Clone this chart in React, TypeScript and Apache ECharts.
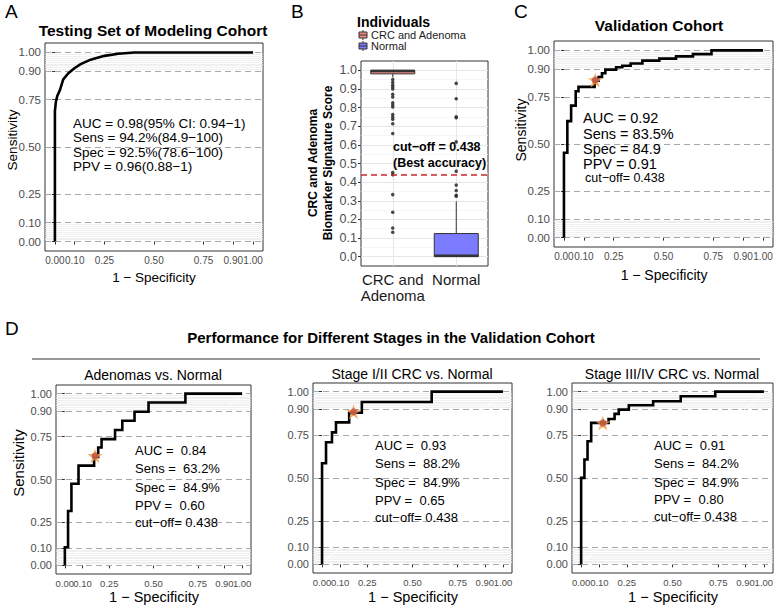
import React, { useEffect, useRef } from 'react';
import * as echarts from 'echarts';

const FONT = '"Liberation Sans", Arial, Helvetica, sans-serif';

// ---------- data ----------
const ROC_TICKS = [0, 0.1, 0.25, 0.5, 0.75, 0.9, 1.0];
// x tick labels are split over two overlaid axes so that touching labels are all kept
const ROC_X_LABELS_MAIN = [0, 0.25, 0.5, 0.75, 1.0];
const ROC_X_LABELS_EXTRA = [0.1, 0.9];
const ROC_MINOR = [0.01, 0.02, 0.03, 0.04, 0.05, 0.06, 0.07, 0.08, 0.09, 0.91, 0.92, 0.93, 0.94, 0.95, 0.96, 0.97, 0.98, 0.99];
const DIAG_X = [0, 1];
const DIAG_Y = [0, 1];

// A: testing set of modeling cohort (smooth ROC)
const A_FPR = [0, 0, 0.005, 0.012, 0.025, 0.042, 0.068, 0.1, 0.13, 0.18, 0.25, 0.32, 0.4, 1.0];
const A_TPR = [0, 0.69, 0.74, 0.77, 0.80, 0.858, 0.89, 0.918, 0.938, 0.962, 0.982, 0.993, 1.0, 1.0];

// C: validation cohort (step ROC)
const C_FPR = [0, 0, 0.017, 0.036, 0.059, 0.073, 0.154, 0.174, 0.191, 0.208, 0.262, 0.293, 0.335, 0.394, 0.479, 0.563, 0.648, 0.741, 1.0];
const C_TPR = [0, 0.453, 0.622, 0.705, 0.782, 0.805, 0.838, 0.858, 0.878, 0.897, 0.91, 0.918, 0.93, 0.945, 0.956, 0.968, 0.98, 1.0, 1.0];
const C_STAR = [0.157, 0.842];

// D1: adenomas vs normal
const D1_FPR = [0, 0, 0.018, 0.037, 0.077, 0.165, 0.188, 0.207, 0.283, 0.324, 0.393, 0.472, 0.68, 1.0];
const D1_TPR = [0, 0.106, 0.317, 0.475, 0.581, 0.631, 0.686, 0.735, 0.788, 0.842, 0.894, 0.948, 1.0, 1.0];
const D1_STAR = [0.17, 0.638];

// D2: stage I/II CRC vs normal
const D2_FPR = [0, 0, 0.022, 0.055, 0.077, 0.15, 0.22, 0.606, 1.0];
const D2_TPR = [0, 0.585, 0.707, 0.764, 0.822, 0.878, 0.94, 1.0, 1.0];
const D2_STAR = [0.174, 0.884];

// D3: stage III/IV CRC vs normal
const D3_FPR = [0, 0, 0.018, 0.035, 0.055, 0.15, 0.183, 0.206, 0.261, 0.394, 0.545, 0.734, 1.0];
const D3_TPR = [0, 0.501, 0.607, 0.713, 0.819, 0.842, 0.871, 0.896, 0.921, 0.944, 0.973, 1.0, 1.0];
const D3_STAR = [0.119, 0.819];

// B: boxplot of signature scores
const B_CATEGORIES = ['CRC and\nAdenoma', 'Normal'];
const B_LEGEND = ['CRC and Adenoma', 'Normal'];
const B_TICKS = [0, 0.1, 0.2, 0.3, 0.4, 0.5, 0.6, 0.7, 0.8, 0.9, 1.0];
const B_MINOR = [0.05, 0.15, 0.25, 0.35, 0.45, 0.55, 0.65, 0.75, 0.85, 0.95];
// [min, Q1, median, Q3, max]
const B_BOX_CRC = [0.962, 0.981, 0.997, 1.0, 1.0];
const B_BOX_NORMAL = [0.0, 0.0, 0.005, 0.124, 0.297];
const B_OUT_CRC = [0.95, 0.934, 0.92, 0.91, 0.9, 0.871, 0.857, 0.826, 0.814, 0.803, 0.763, 0.749, 0.737, 0.713, 0.661, 0.452, 0.44, 0.333, 0.238, 0.154, 0.131];
const B_OUT_NORMAL = [0.93, 0.848, 0.751, 0.745, 0.616, 0.459, 0.384, 0.355, 0.33, 0.324];
const B_CUTOFF = 0.438;

// ---------- styles / layout ----------
const B_COLORS = ['#F28A82', '#7B7BFF'];
const STAR_PATH = 'path://M50,0 L61,35 L98,35 L68,57 L79,91 L50,70 L21,91 L32,57 L2,35 L39,35 Z';

const zip = (xs: number[], ys: number[]) => xs.map((x, i) => [x, ys[i]]);

const GRIDS = [
  { left: 45, top: 43, width: 218, height: 208 }, // A
  { left: 361, top: 61, width: 127, height: 205 }, // B
  { left: 554, top: 41, width: 219, height: 206 }, // C
  { left: 56, top: 385, width: 195, height: 189 }, // D1
  { left: 313, top: 383, width: 199, height: 190 }, // D2
  { left: 572, top: 383, width: 201, height: 190 }, // D3
];

const ROC_PANELS = [
  { g: 0, fpr: A_FPR, tpr: A_TPR, star: null as number[] | null, smooth: true, fs: 11.5, fx: 10 },
  { g: 2, fpr: C_FPR, tpr: C_TPR, star: C_STAR, smooth: false, fs: 11.5, fx: 10 },
  { g: 3, fpr: D1_FPR, tpr: D1_TPR, star: D1_STAR, smooth: false, fs: 11, fx: 9.5 },
  { g: 4, fpr: D2_FPR, tpr: D2_TPR, star: D2_STAR, smooth: false, fs: 11, fx: 9.5 },
  { g: 5, fpr: D3_FPR, tpr: D3_TPR, star: D3_STAR, smooth: false, fs: 11, fx: 9.5 },
];

function txt(text: string, x: number, y: number, size: number, opts: any = {}) {
  const align = opts.align || 'left';
  return {
    type: 'text',
    x,
    y,
    rotation: opts.rotation || 0,
    silent: true,
    z: 50,
    style: {
      text,
      fill: opts.color || '#000',
      fontSize: size,
      fontFamily: FONT,
      fontWeight: opts.bold ? 'bold' : 'normal',
      textAlign: align,
      align,
      textVerticalAlign: 'middle',
      verticalAlign: 'middle',
      lineHeight: opts.lineHeight,
    },
  };
}

function valueAxis(g: number, ticks: number[], labels: number[], digits: number, fs: number, extra: any = {}) {
  return {
    type: 'value',
    gridIndex: g,
    min: -0.05,
    max: 1.05,
    axisLine: { show: false },
    axisTick: { show: ticks.length > 0, customValues: ticks, length: 3, lineStyle: { color: '#333' } },
    axisLabel: {
      customValues: labels,
      formatter: (v: number) => v.toFixed(digits),
      color: '#4D4D4D',
      fontSize: fs,
      fontFamily: FONT,
      margin: 4,
      showMinLabel: true,
      showMaxLabel: true,
      hideOverlap: false,
    },
    splitLine: { show: false },
    ...extra,
  };
}

function buildOption() {
  const xAxis: any[] = [];
  const yAxis: any[] = [];
  const series: any[] = [];

  GRIDS.forEach((_, g) => {
    if (g === 1) {
      xAxis.push({
        type: 'category',
        gridIndex: 1,
        data: B_CATEGORIES,
        axisLine: { show: false },
        axisTick: { show: true, alignWithLabel: true, interval: 0, length: 3, lineStyle: { color: '#333' } },
        axisLabel: { interval: 0, color: '#1A1A1A', fontSize: 15, fontFamily: FONT, lineHeight: 16, margin: 5, hideOverlap: false },
        splitLine: { show: false },
      });
      yAxis.push(valueAxis(1, B_TICKS, B_TICKS, 1, 12.5));
      return;
    }
    const p = ROC_PANELS.find((q) => q.g === g)!;
    xAxis.push(valueAxis(g, ROC_TICKS, ROC_X_LABELS_MAIN, 2, p.fx, { position: 'bottom' }));
    yAxis.push(valueAxis(g, ROC_TICKS, ROC_TICKS, 2, p.fs, { position: 'left' }));
  });
  // overlaid second x axes carrying the 0.10 / 0.90 labels
  ROC_PANELS.forEach((p) => {
    xAxis.push(valueAxis(p.g, [], ROC_X_LABELS_EXTRA, 2, p.fx, { position: 'bottom', offset: 0 }));
  });

  // ROC panels
  ROC_PANELS.forEach((p) => {
    series.push({
      type: 'line',
      xAxisIndex: p.g,
      yAxisIndex: p.g,
      data: zip(DIAG_X, DIAG_Y),
      symbol: 'none',
      silent: true,
      z: 1,
      lineStyle: { color: '#FFFFFF', width: 1 },
      markLine: {
        silent: true,
        z: 1,
        symbol: ['none', 'none'],
        label: { show: false },
        animation: false,
        data: [
          ...ROC_MINOR.map((v) => ({ yAxis: v, lineStyle: { color: '#E8E8E8', width: 0.7, type: 'solid' } })),
          ...ROC_TICKS.map((v) => ({ yAxis: v, lineStyle: { color: '#A8A8A8', width: 1, type: [6, 4] } })),
        ],
      },
    });
    series.push({
      type: 'line',
      xAxisIndex: p.g,
      yAxisIndex: p.g,
      data: zip(p.fpr, p.tpr),
      step: p.smooth ? false : 'end',
      smooth: false,
      symbol: 'none',
      silent: true,
      z: 10,
      lineStyle: { color: '#000', width: 2.6, join: 'miter' },
    });
    if (p.star) {
      series.push({
        type: 'scatter',
        xAxisIndex: p.g,
        yAxisIndex: p.g,
        data: [p.star],
        symbol: STAR_PATH,
        symbolSize: 15,
        silent: true,
        z: 11,
        itemStyle: { color: '#F5A04E', opacity: 0.85 },
      });
      series.push({
        type: 'scatter',
        xAxisIndex: p.g,
        yAxisIndex: p.g,
        data: [p.star],
        symbol: 'circle',
        symbolSize: 7,
        silent: true,
        z: 12,
        itemStyle: { color: '#B5443E', opacity: 0.7 },
      });
    }
  });

  // B panel grid lines
  series.push({
    type: 'line',
    xAxisIndex: 1,
    yAxisIndex: 1,
    data: [],
    symbol: 'none',
    silent: true,
    z: 1,
    markLine: {
      silent: true,
      z: 1,
      symbol: ['none', 'none'],
      label: { show: false },
      animation: false,
      data: [
        ...B_MINOR.map((v) => ({ yAxis: v, lineStyle: { color: '#F2F2F2', width: 0.8, type: 'solid' } })),
        ...B_TICKS.map((v) => ({ yAxis: v, lineStyle: { color: '#E6E6E6', width: 1, type: 'solid' } })),
        ...B_CATEGORIES.map((c) => ({ xAxis: c, lineStyle: { color: '#E6E6E6', width: 1, type: 'solid' } })),
      ],
    },
  });

  // B boxes
  const boxRows = [B_BOX_CRC, B_BOX_NORMAL].map((b, i) => [i, ...b]);
  series.push({
    type: 'custom',
    xAxisIndex: 1,
    yAxisIndex: 1,
    data: boxRows,
    encode: { x: 0, y: [1, 2, 3, 4, 5] },
    silent: true,
    z: 10,
    renderItem: (params: any, api: any) => {
      const i = api.value(0);
      const c = api.coord([i, api.value(1)]);
      const cx = c[0];
      const yMin = c[1];
      const yQ1 = api.coord([i, api.value(2)])[1];
      const yMed = api.coord([i, api.value(3)])[1];
      const yQ3 = api.coord([i, api.value(4)])[1];
      const yMax = api.coord([i, api.value(5)])[1];
      const hw = 22;
      const fill = B_COLORS[params.dataIndex];
      return {
        type: 'group',
        children: [
          { type: 'line', shape: { x1: cx, y1: yMin, x2: cx, y2: yQ1 }, style: { stroke: '#333', lineWidth: 1 } },
          { type: 'line', shape: { x1: cx, y1: yQ3, x2: cx, y2: yMax }, style: { stroke: '#333', lineWidth: 1 } },
          { type: 'rect', shape: { x: cx - hw, y: yQ3, width: 2 * hw, height: Math.max(yQ1 - yQ3, 1) }, style: { fill, stroke: '#333', lineWidth: 1 } },
          { type: 'line', shape: { x1: cx - hw, y1: yMed, x2: cx + hw, y2: yMed }, style: { stroke: '#333', lineWidth: 2.5 } },
        ],
      };
    },
  });

  // B outliers
  series.push({
    type: 'scatter',
    xAxisIndex: 1,
    yAxisIndex: 1,
    data: [...B_OUT_CRC.map((v) => [0, v]), ...B_OUT_NORMAL.map((v) => [1, v])],
    symbol: 'circle',
    symbolSize: 3.5,
    silent: true,
    z: 11,
    itemStyle: { color: '#333', opacity: 0.9 },
  });

  // B cut-off line
  series.push({
    type: 'line',
    xAxisIndex: 1,
    yAxisIndex: 1,
    data: [],
    symbol: 'none',
    silent: true,
    z: 12,
    markLine: {
      silent: true,
      z: 12,
      symbol: ['none', 'none'],
      label: { show: false },
      animation: false,
      data: [{ yAxis: B_CUTOFF, lineStyle: { color: '#C62828', width: 1.5, type: [6, 4] } }],
    },
  });

  const graphic: any[] = [
    // panel letters
    txt('A', 5, 11, 19),
    txt('B', 291, 11, 19),
    txt('C', 514, 11, 19),
    txt('D', 5, 328, 19),
    // titles
    txt('Testing Set of Modeling Cohort', 153, 30, 15.5, { bold: true, align: 'center' }),
    txt('Validation Cohort', 659, 25, 15.5, { bold: true, align: 'center' }),
    txt('Performance for Different Stages in the Validation Cohort', 391, 337, 15, { bold: true, align: 'center' }),
    { type: 'line', silent: true, shape: { x1: 32, y1: 359, x2: 760, y2: 359 }, style: { stroke: '#333', lineWidth: 1.2 } },
    txt('Adenomas vs. Normal', 153, 375, 14, { align: 'center' }),
    txt('Stage I/II CRC vs. Normal', 412, 374, 14, { align: 'center' }),
    txt('Stage III/IV CRC vs. Normal', 672, 374, 14, { align: 'center' }),
    // axis titles
    txt('1 \u2212 Specificity', 154, 277, 13.5, { align: 'center' }),
    txt('Sensitivity', 12, 140, 13.5, { align: 'center', rotation: Math.PI / 2 }),
    txt('1 \u2212 Specificity', 664, 275, 14, { align: 'center' }),
    txt('Sensitivity', 521, 130, 14, { align: 'center', rotation: Math.PI / 2 }),
    txt('1 \u2212 Specificity', 154, 597, 14.5, { align: 'center' }),
    txt('Sensitivity', 18, 463, 15, { align: 'center', rotation: Math.PI / 2 }),
    txt('1 \u2212 Specificity', 413, 597, 14.5, { align: 'center' }),
    txt('1 \u2212 Specificity', 673, 597, 14.5, { align: 'center' }),
    // B
    txt('Individuals', 357, 22, 14, { bold: true }),
    txt('CRC and Adenoma', 371, 35, 11, { color: '#1A1A1A' }),
    txt('Normal', 371, 46, 11, { color: '#1A1A1A' }),
    txt('CRC and Adenoma', 313, 163, 12, { bold: true, align: 'center', rotation: Math.PI / 2 }),
    txt('Biomarker Signature Score', 328, 163, 12, { bold: true, align: 'center', rotation: Math.PI / 2 }),
    txt('cut\u2212off = 0.438', 393, 147, 12.5, { bold: true }),
    txt('(Best accuracy)', 393, 163, 12.5, { bold: true }),
    // A annotations
    txt('AUC = 0.98(95% CI: 0.94\u22121)', 73, 123, 13.5),
    txt('Sens = 94.2%(84.9\u2212100)', 73, 137.5, 13.5),
    txt('Spec = 92.5%(78.6\u2212100)', 73, 152, 13.5),
    txt('PPV = 0.96(0.88\u22121)', 73, 166, 13.5),
    // C annotations
    txt('AUC = 0.92', 583, 118, 14.5),
    txt('Sens = 83.5%', 583, 133.5, 14.5),
    txt('Spec = 84.9', 583, 148.5, 14.5),
    txt('PPV = 0.91', 583, 163.5, 14.5),
    txt('cut\u2212off= 0.438', 585, 178, 12.5),
    // D1
    txt('AUC =  0.84', 135, 450, 13),
    txt('Sens =  63.2%', 135, 468, 13),
    txt('Spec =  84.9%', 135, 487, 13),
    txt('PPV =  0.60', 135, 505, 13),
    txt('cut\u2212off= 0.438', 135, 522, 13),
    // D2
    txt('AUC =  0.93', 375, 445, 13),
    txt('Sens =  88.2%', 375, 463, 13),
    txt('Spec =  84.9%', 375, 482, 13),
    txt('PPV =  0.65', 375, 500, 13),
    txt('cut\u2212off= 0.438', 375, 517, 13),
    // D3
    txt('AUC =  0.91', 654, 445, 13),
    txt('Sens =  84.2%', 654, 463, 13),
    txt('Spec =  84.9%', 654, 482, 13),
    txt('PPV =  0.80', 654, 499, 13),
    txt('cut\u2212off= 0.438', 654, 516, 13),
  ];

  // B legend glyphs
  B_LEGEND.forEach((_, i) => {
    const cy = 35 + i * 11;
    graphic.push({ type: 'line', silent: true, shape: { x1: 363, y1: cy - 5, x2: 363, y2: cy + 5 }, style: { stroke: '#333', lineWidth: 1 } });
    graphic.push({ type: 'rect', silent: true, shape: { x: 359, y: cy - 3, width: 8, height: 6 }, style: { fill: B_COLORS[i], stroke: '#333', lineWidth: 1 } });
    graphic.push({ type: 'line', silent: true, shape: { x1: 359, y1: cy, x2: 367, y2: cy }, style: { stroke: '#333', lineWidth: 1 } });
  });

  return {
    animation: false,
    backgroundColor: '#FFFFFF',
    textStyle: { fontFamily: FONT },
    grid: GRIDS.map((g) => ({
      ...g,
      show: true,
      backgroundColor: '#FFFFFF',
      borderColor: '#333333',
      borderWidth: 1,
      containLabel: false,
      outerBoundsMode: 'none',
    })),
    xAxis,
    yAxis,
    series,
    graphic,
  };
}

export default function App() {
  const ref = useRef<HTMLDivElement>(null);
  useEffect(() => {
    document.body.style.margin = '0';
    const chart = echarts.init(ref.current!, undefined, { renderer: 'svg' });
    chart.setOption(buildOption() as any);
    return () => chart.dispose();
  }, []);
  return <div ref={ref} style={{ position: 'absolute', left: 0, top: 0, width: 781, height: 605 }} />;
}
